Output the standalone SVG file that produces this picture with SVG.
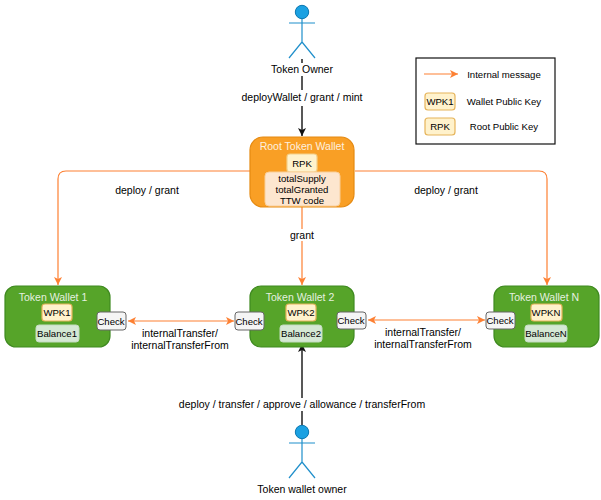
<svg xmlns="http://www.w3.org/2000/svg" width="601" height="500" viewBox="0 0 601 500">
<defs>
<style>
text{font-family:"Liberation Sans",Arial,sans-serif;font-size:10.5px;fill:#000;text-anchor:middle}
.o{fill:none;stroke:#fd8033;stroke-width:1.2}
.b{fill:none;stroke:#222;stroke-width:1.5}
.a{fill:none;stroke:#1f8fcb;stroke-width:1.2}
.head{fill:#1ba1e2;stroke:#0b77b0;stroke-width:1}
.w{fill:#56a429;stroke:#3f8a20;stroke-width:1.2}
.t{fill:#fff;opacity:.85}
.key{fill:#fff2cc;stroke:#e6b45a;stroke-width:1.2}
.bal{fill:#d5e8d4;stroke:#c3dcc0;stroke-width:1}
.chk{fill:#f5f5f5;stroke:#666;stroke-width:1}
.s{font-size:9.6px}
</style>
<marker id="mo" markerWidth="10" markerHeight="10" refX="8" refY="4" orient="auto-start-reverse" markerUnits="userSpaceOnUse"><path d="M0 0L8 4L0 8L2 4Z" fill="#fd8033"/></marker>
<marker id="mb" markerWidth="10" markerHeight="10" refX="8" refY="4" orient="auto" markerUnits="userSpaceOnUse"><path d="M0 0L8 4L0 8L2 4Z" fill="#111"/></marker>
<g id="actor">
<circle class="head" cx="0" cy="12" r="6.7"/>
<path class="a" d="M0 19V42M-13 23H13M0 42L-13 58M0 42L13 58"/>
</g>
</defs>
<g id="connectors">
<path class="b" d="M302 59V63M302 76V90M302 106V136" marker-end="url(#mb)"/>
<path class="b" d="M302 425V411M302 398V344" marker-end="url(#mb)"/>
<path class="o" d="M250 171H66Q58 171 58 179V285" marker-end="url(#mo)"/>
<path class="o" d="M355 171H539Q547 171 547 179V285" marker-end="url(#mo)"/>
<path class="o" d="M302 207V229M302 241V285" marker-end="url(#mo)"/>
<path class="o" d="M128 321H234" marker-start="url(#mo)" marker-end="url(#mo)"/>
<path class="o" d="M368 320H485" marker-start="url(#mo)" marker-end="url(#mo)"/>
</g>
<g id="token-owner"><use href="#actor" x="302" y="0"/><text x="302" y="73">Token Owner</text></g>
<text x="302" y="101">deployWallet / grant / mint</text>
<g id="root-token-wallet">
<rect x="250" y="137" width="104" height="70" rx="13" fill="#f99f25" stroke="#e58a12" stroke-width="1.2"/>
<text class="t" x="302" y="150">Root Token Wallet</text>
<rect class="key" x="287" y="154" width="30" height="18" rx="3" style="fill:#fff2cc;stroke:#f3d08a"/>
<text class="s" x="302" y="167">RPK</text>
<rect x="265" y="172" width="75" height="34" rx="4" fill="#fde6cf" stroke="#f9cf9a"/>
<text class="s" x="302" y="182">totalSupply</text>
<text class="s" x="302" y="193">totalGranted</text>
<text class="s" x="302" y="204">TTW code</text>
</g>
<text x="147" y="194">deploy / grant</text>
<text x="446" y="194">deploy / grant</text>
<text x="302" y="239">grant</text>
<g id="token-wallet-1">
<rect class="w" x="5" y="286" width="105" height="61" rx="11"/>
<text class="t" x="53" y="301">Token Wallet 1</text>
<rect class="key" x="42" y="304" width="30" height="17" rx="3"/><text class="s" x="57" y="316">WPK1</text>
<rect class="bal" x="36" y="325" width="43" height="17" rx="3"/><text class="s" x="57" y="337">Balance1</text>
<rect class="chk" x="97" y="312" width="29" height="18" rx="3"/><text class="s" x="111" y="325">Check</text>
</g>
<g id="token-wallet-2">
<rect class="w" x="250" y="286" width="104" height="61" rx="11"/>
<text class="t" x="300" y="301">Token Wallet 2</text>
<rect class="key" x="286" y="304" width="30" height="17" rx="3"/><text class="s" x="301" y="316">WPK2</text>
<rect class="bal" x="280" y="325" width="42" height="17" rx="3"/><text class="s" x="301" y="337">Balance2</text>
<rect class="chk" x="235" y="312" width="29" height="18" rx="3"/><text class="s" x="249" y="325">Check</text>
<rect class="chk" x="337" y="312" width="29" height="17" rx="3"/><text class="s" x="351" y="324">Check</text>
</g>
<g id="token-wallet-n">
<rect class="w" x="494" y="286" width="105" height="61" rx="11"/>
<text class="t" x="544" y="301">Token Wallet N</text>
<rect class="key" x="531" y="304" width="31" height="17" rx="3"/><text class="s" x="546" y="316">WPKN</text>
<rect class="bal" x="525" y="325" width="42" height="17" rx="3"/><text class="s" x="546" y="337">BalanceN</text>
<rect class="chk" x="486" y="312" width="29" height="17" rx="3"/><text class="s" x="500" y="324">Check</text>
</g>
<text x="180" y="337">internalTransfer/</text>
<text x="180" y="349">internalTransferFrom</text>
<text x="423" y="336">internalTransfer/</text>
<text x="423" y="348">internalTransferFrom</text>
<text x="302" y="408">deploy / transfer / approve / allowance / transferFrom</text>
<g id="token-wallet-owner"><use href="#actor" x="302" y="420"/><text x="302" y="493">Token wallet owner</text></g>
<g id="legend">
<rect x="416" y="58" width="139" height="86" fill="#fff" stroke="#111" stroke-width="1.2"/>
<path class="o" d="M424 74H458" marker-end="url(#mo)"/>
<text class="s" x="504" y="78">Internal message</text>
<rect class="key" x="425" y="93" width="30" height="17" rx="3"/><text class="s" x="440" y="105">WPK1</text>
<text class="s" x="504" y="105">Wallet Public Key</text>
<rect class="key" x="425" y="118" width="30" height="17" rx="3"/><text class="s" x="440" y="130">RPK</text>
<text class="s" x="504" y="130">Root Public Key</text>
</g>
</svg>
